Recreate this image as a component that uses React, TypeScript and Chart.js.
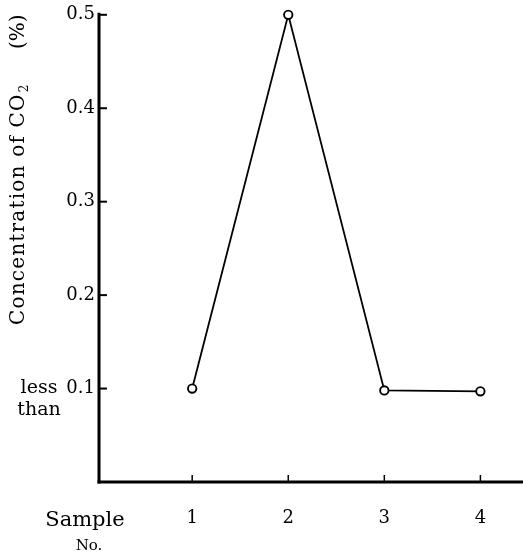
import React, { useEffect, useRef } from "react";
import { Chart, registerables } from "chart.js";

Chart.register(...registerables);

const sampleNumbers = [1, 2, 3, 4];
const co2Values = [0.1, 0.5, 0.098, 0.097];
const yTickValues = [0.1, 0.2, 0.3, 0.4, 0.5];
const xTickValues = [1, 2, 3, 4];
const yTitle = "Concentration of CO";
const yTitleSub = "2";
const yTitleUnit = "(%)";
const lessThanLines = ["less", "than"];
const xTitleLines = ["Sample", "No."];

const FONT = "'DejaVu Serif', serif";

const axesPlugin = {
  id: "handAxes",
  afterDraw(chart: any) {
    const ctx = chart.ctx;
    const { left, bottom } = chart.chartArea;
    const right = chart.width;
    const xs = chart.scales.x;
    const ys = chart.scales.y;
    ctx.save();
    ctx.strokeStyle = "#000";
    ctx.lineCap = "butt";
    // y axis
    ctx.lineWidth = 3;
    ctx.beginPath();
    ctx.moveTo(left, bottom + 1.5);
    ctx.lineTo(left, ys.getPixelForValue(0.5) - 2);
    ctx.stroke();
    // x axis
    ctx.beginPath();
    ctx.moveTo(left - 1.5, bottom);
    ctx.lineTo(right, bottom);
    ctx.stroke();
    // y ticks (inward)
    ctx.lineWidth = 2;
    yTickValues.forEach((v) => {
      const py = ys.getPixelForValue(v);
      ctx.beginPath();
      ctx.moveTo(left, py);
      ctx.lineTo(left + 8, py);
      ctx.stroke();
    });
    // x ticks (inward)
    ctx.lineWidth = 1.5;
    xTickValues.forEach((v) => {
      const px = xs.getPixelForValue(v);
      ctx.beginPath();
      ctx.moveTo(px, bottom);
      ctx.lineTo(px, bottom - 7);
      ctx.stroke();
    });

    ctx.fillStyle = "#000";
    // y title rotated
    ctx.save();
    ctx.translate(24, 325);
    ctx.rotate(-Math.PI / 2);
    ctx.font = `20px ${FONT}`;
    (ctx as any).letterSpacing = "1.2px";
    ctx.textAlign = "left";
    ctx.textBaseline = "alphabetic";
    ctx.fillText(yTitle, 0, 0);
    const w = ctx.measureText(yTitle).width;
    (ctx as any).letterSpacing = "0px";
    ctx.font = `12px ${FONT}`;
    ctx.fillText(yTitleSub, w + 1, 4);
    ctx.font = `20px ${FONT}`;
    ctx.fillText(yTitleUnit, 276, 0);
    ctx.restore();

    // less than
    ctx.font = `19px ${FONT}`;
    ctx.textAlign = "center";
    ctx.textBaseline = "alphabetic";
    ctx.fillText(lessThanLines[0], 39, 393);
    ctx.fillText(lessThanLines[1], 39, 415);

    // x title
    ctx.font = `21px ${FONT}`;
    ctx.fillText(xTitleLines[0], 85, 526);
    ctx.font = `15px ${FONT}`;
    ctx.fillText(xTitleLines[1], 89, 550);
    ctx.restore();
  },
};

export default function App() {
  const ref = useRef<HTMLCanvasElement>(null);
  useEffect(() => {
    if (!ref.current) return;
    const chart = new Chart(ref.current, {
      type: "line",
      data: {
        datasets: [
          {
            data: sampleNumbers.map((x, i) => ({ x, y: co2Values[i] })),
            borderColor: "#000",
            borderWidth: 1.8,
            pointRadius: 4.2,
            pointBorderWidth: 1.9,
            pointBackgroundColor: "#fff",
            pointBorderColor: "#000",
            tension: 0,
            clip: false as any,
          },
        ],
      },
      plugins: [axesPlugin],
      options: {
        animation: false,
        responsive: false,
        maintainAspectRatio: false,
        devicePixelRatio: 1,
        layout: { padding: { top: 14, right: 0, left: 0, bottom: 0 } },
        plugins: { legend: { display: false }, tooltip: { enabled: false } },
        scales: {
          x: {
            type: "linear",
            min: 0.03,
            max: 4.38,
            grid: { display: false, drawTicks: false },
            border: { display: false },
            afterFit: (s: any) => {
              s.height = 70;
            },
            afterBuildTicks: (s: any) => {
              s.ticks = xTickValues.map((v) => ({ value: v }));
            },
            ticks: {
              padding: 26,
              color: "#000",
              font: { family: FONT, size: 18 },
              callback: (v: any) => String(v),
            },
          },
          y: {
            min: 0,
            max: 0.5,
            grid: { display: false, drawTicks: false },
            border: { display: false },
            afterFit: (s: any) => {
              s.width = 99;
            },
            afterBuildTicks: (s: any) => {
              s.ticks = yTickValues.map((v) => ({ value: v }));
            },
            ticks: {
              padding: 4,
              color: "#000",
              font: { family: FONT, size: 18 },
              callback: (v: any) => Number(v).toFixed(1),
            },
          },
        },
      },
    });
    return () => chart.destroy();
  }, []);
  return (
    <div style={{ position: "absolute", left: 0, top: 0, width: 523, height: 552, background: "#fff" }}>
      <canvas ref={ref} width={523} height={552} style={{ display: "block", width: 523, height: 552 }} />
    </div>
  );
}
